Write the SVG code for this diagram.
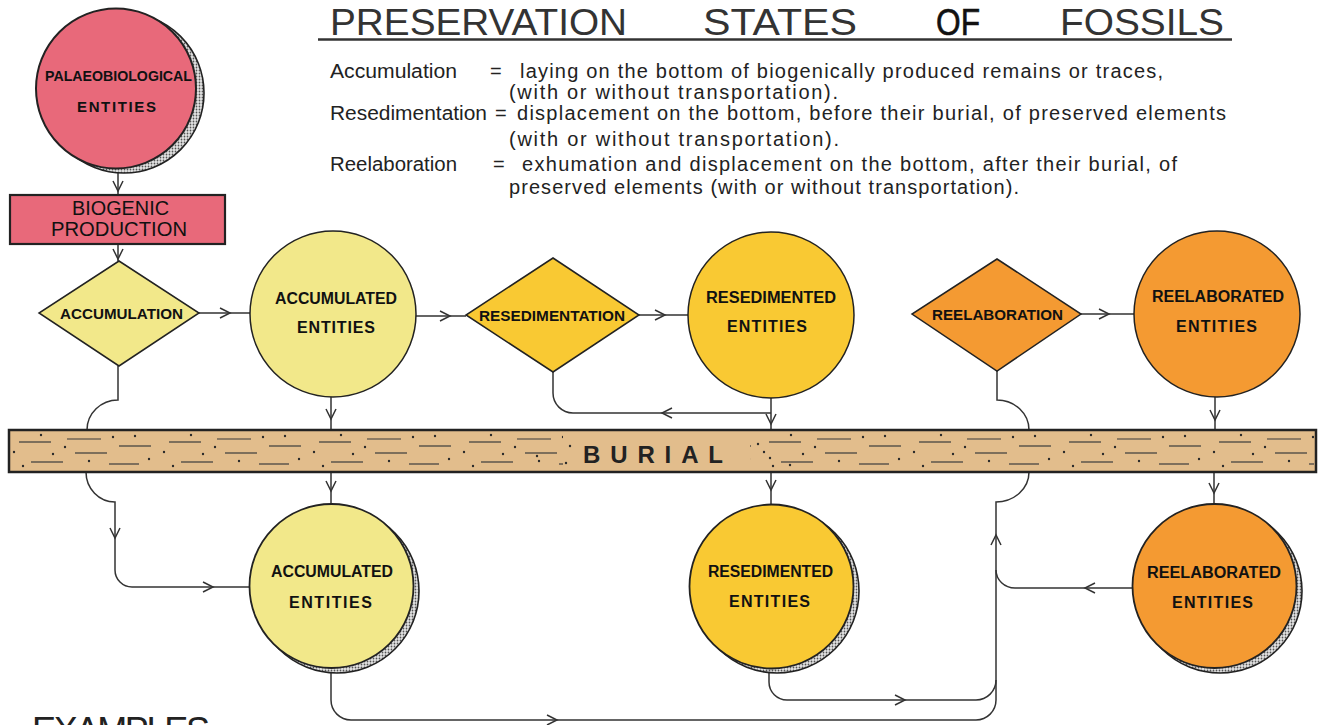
<svg xmlns="http://www.w3.org/2000/svg" width="1319" height="725" viewBox="0 0 1319 725">
<defs>
<style>
.title{font-family:"Liberation Sans",Arial,sans-serif;font-size:36px;fill:#333}
.body{font-family:"Liberation Sans",Arial,sans-serif;font-size:20px;fill:#222}
.lbl{font-family:"Liberation Sans",Arial,sans-serif;font-weight:bold;font-size:16px;fill:#111}
.dlbl{font-family:"Liberation Sans",Arial,sans-serif;font-weight:bold;font-size:15px;fill:#111}
.con{fill:none;stroke:#333;stroke-width:1.5}
.arr{fill:none;stroke:#333;stroke-width:1.5;stroke-linejoin:miter}
.node{stroke:#222;stroke-width:1.8}
.shadow{fill:url(#stip);stroke:#222;stroke-width:1.6}
.pink{fill:#E8697A}
.ly{fill:#F2E88A}
.yy{fill:#F9C933}
.oo{fill:#F49A32}
</style>
<pattern id="stip" patternUnits="userSpaceOnUse" width="3" height="3">
<rect width="3" height="3" fill="#e4e4e4"/>
<circle cx="1.5" cy="1.5" r="0.9" fill="#555"/>
</pattern>
<pattern id="sed" patternUnits="userSpaceOnUse" x="9" y="430" width="150" height="42">
<g stroke="#3a3a3a" stroke-width="1.2">
<line x1="10" y1="12" x2="42" y2="12"/>
<line x1="58" y1="9" x2="92" y2="9"/>
<line x1="66" y1="23" x2="98" y2="23"/>
<line x1="22" y1="32" x2="54" y2="32"/>
<line x1="110" y1="16" x2="142" y2="16"/>
<line x1="100" y1="34" x2="130" y2="34"/>
</g>
<g fill="#2a2a2a">
<circle cx="5" cy="22" r="1.2"/>
<circle cx="32" cy="5" r="1.2"/>
<circle cx="56" cy="17" r="1.2"/>
<circle cx="80" cy="31" r="1.2"/>
<circle cx="104" cy="7" r="1.2"/>
<circle cx="140" cy="29" r="1.2"/>
<circle cx="44" cy="24" r="1.2"/>
<circle cx="126" cy="6" r="1.2"/>
<circle cx="14" cy="36" r="1.2"/>
</g>
</pattern>
</defs>
<rect width="1319" height="725" fill="#ffffff"/>

<g id="title">
<text class="title" x="330" y="35" textLength="297" lengthAdjust="spacingAndGlyphs">PRESERVATION</text>
<text class="title" x="703" y="35" textLength="154" lengthAdjust="spacingAndGlyphs">STATES</text>
<text class="title" x="936" y="35" textLength="44" lengthAdjust="spacingAndGlyphs" style="fill:#111;stroke:#111;stroke-width:0.6">OF</text>
<text class="title" x="1060" y="35" textLength="164" lengthAdjust="spacingAndGlyphs">FOSSILS</text>
<line x1="318" y1="39.5" x2="1232" y2="39.5" stroke="#333" stroke-width="2.5"/>
</g>

<g id="definitions">
<text class="body" x="330" y="78" textLength="127" lengthAdjust="spacingAndGlyphs">Accumulation</text>
<text class="body" x="490" y="78">=</text>
<text class="body" x="520" y="78" textLength="643" lengthAdjust="spacing">laying on the bottom of biogenically produced remains or traces,</text>
<text class="body" x="509" y="99" textLength="329" lengthAdjust="spacing">(with or without transportation).</text>
<text class="body" x="330" y="120" textLength="157" lengthAdjust="spacingAndGlyphs">Resedimentation</text>
<text class="body" x="495" y="120">=</text>
<text class="body" x="517" y="120" textLength="709" lengthAdjust="spacing">displacement on the bottom, before their burial, of preserved elements</text>
<text class="body" x="509" y="146" textLength="330" lengthAdjust="spacing">(with or without transportation).</text>
<text class="body" x="330" y="171" textLength="127" lengthAdjust="spacingAndGlyphs">Reelaboration</text>
<text class="body" x="493" y="171">=</text>
<text class="body" x="522" y="171" textLength="655" lengthAdjust="spacing">exhumation and displacement on the bottom, after their burial, of</text>
<text class="body" x="509" y="194" textLength="510" lengthAdjust="spacing">preserved elements (with or without transportation).</text>
</g>

<g id="connectors">
<path class="con" d="M118,170 V195 M118,244 V261"/>
<path class="arr" d="M113,181 L118,191 L123,181 M113,249 L118,259 L123,249"/>
<path class="con" d="M199,313 H250 M416,316 H466 M639,315 H688 M1081,314 H1134"/>
<path class="arr" d="M220,308 L230,313 L220,318 M440,311 L450,316 L440,321 M655,310 L665,315 L655,320 M1099,309 L1109,314 L1099,319"/>
<path class="con" d="M118,366 V400 A31,30 0 0 0 87,430"/>
<path class="con" d="M86,472 A29,30 0 0 0 115,502 V570 A17,17 0 0 0 132,587 H250"/>
<path class="arr" d="M110,528 L115,538 L120,528 M203,582 L213,587 L203,592"/>
<path class="con" d="M331,397 V430 M331,472 V504"/>
<path class="arr" d="M326,409 L331,419 L336,409 M326,481 L331,491 L336,481"/>
<path class="con" d="M553,372 V393 A20,20 0 0 0 573,413 H771 M771,398 V430 M771,472 V505"/>
<path class="arr" d="M672,408 L662,413 L672,418 M766,414 L771,424 L776,414 M766,480 L771,490 L776,480"/>
<path class="con" d="M997,371 V400 A32,30 0 0 1 1029,430"/>
<path class="con" d="M1029,472 A33,30 0 0 1 996,502 V700"/>
<path class="arr" d="M991,545 L996,535 L1001,545"/>
<path class="con" d="M1215,397 V430 M1214,472 V505"/>
<path class="arr" d="M1210,410 L1215,420 L1220,410 M1209,483 L1214,493 L1219,483"/>
<path class="con" d="M1132,588 H1015 A19,18 0 0 1 996,570"/>
<path class="arr" d="M1095,583 L1085,588 L1095,593"/>
<path class="con" d="M769,668 V682 A18,18 0 0 0 787,700 H976 A20,20 0 0 0 996,680"/>
<path class="arr" d="M895,695 L905,700 L895,705"/>
<path class="con" d="M331,668 V700 A20,20 0 0 0 351,720 H976 A20,20 0 0 0 996,700"/>
<path class="arr" d="M547,715 L557,720 L547,725"/>
</g>

<g id="burial">
<rect x="9" y="430" width="1307" height="42" fill="#E2BD8C" stroke="#222" stroke-width="2.5"/>
<rect x="11" y="432" width="552" height="38" fill="url(#sed)"/>
<rect x="750" y="432" width="564" height="38" fill="url(#sed)"/>
<g fill="#2a2a2a">
<circle cx="570" cy="446" r="1.2"/><circle cx="566" cy="463" r="1.2"/><circle cx="537" cy="456" r="1.2"/>
<circle cx="758" cy="444" r="1.2"/><circle cx="770" cy="458" r="1.2"/><circle cx="790" cy="465" r="1.2"/>
</g>
<text x="583" y="463" style="font-family:'Liberation Sans',Arial,sans-serif;font-weight:bold;font-size:24px;fill:#222" textLength="140" lengthAdjust="spacing">BURIAL</text>
</g>

<g id="palaeo">
<circle class="shadow" cx="124" cy="93" r="80"/>
<circle class="node pink" cx="116" cy="88.5" r="80" style="stroke-width:2"/>
<text class="dlbl" x="45" y="81" textLength="147" lengthAdjust="spacingAndGlyphs">PALAEOBIOLOGICAL</text>
<text class="dlbl" x="77" y="112" textLength="79" lengthAdjust="spacing">ENTITIES</text>
</g>

<g id="biogenic">
<rect class="pink" x="10" y="195" width="215" height="49" stroke="#222" stroke-width="2.2"/>
<text x="72" y="215" style="font-family:'Liberation Sans',Arial,sans-serif;font-size:19.5px;fill:#111" textLength="97" lengthAdjust="spacingAndGlyphs">BIOGENIC</text>
<text x="51" y="236" style="font-family:'Liberation Sans',Arial,sans-serif;font-size:19.5px;fill:#111" textLength="136" lengthAdjust="spacingAndGlyphs">PRODUCTION</text>
</g>

<g id="accumulation">
<polygon class="node ly" points="119,261 199,313 119,366 39,313" style="stroke-width:1.5"/>
<text class="dlbl" x="60" y="319" textLength="123" lengthAdjust="spacingAndGlyphs">ACCUMULATION</text>
</g>

<g id="accumulated-top">
<circle class="node ly" cx="333" cy="314" r="83" style="stroke-width:1.5"/>
<text class="lbl" x="275" y="304" textLength="122" lengthAdjust="spacingAndGlyphs">ACCUMULATED</text>
<text class="lbl" x="297" y="333" textLength="78" lengthAdjust="spacing">ENTITIES</text>
</g>

<g id="resedimentation">
<polygon class="node yy" points="553,258 639,315 553,372 466,315" style="stroke-width:1.5"/>
<text class="dlbl" x="479" y="321" textLength="146" lengthAdjust="spacingAndGlyphs">RESEDIMENTATION</text>
</g>

<g id="resedimented-top">
<circle class="node yy" cx="771" cy="315" r="83" style="stroke-width:1.5"/>
<text class="lbl" x="706" y="303" textLength="130" lengthAdjust="spacingAndGlyphs">RESEDIMENTED</text>
<text class="lbl" x="727" y="332" textLength="80" lengthAdjust="spacing">ENTITIES</text>
</g>

<g id="reelaboration">
<polygon class="node oo" points="997,259 1081,314 997,371 912,314" style="stroke-width:1.5"/>
<text class="dlbl" x="932" y="320" textLength="131" lengthAdjust="spacingAndGlyphs">REELABORATION</text>
</g>

<g id="reelaborated-top">
<circle class="node oo" cx="1217" cy="314" r="83" style="stroke-width:1.5"/>
<text class="lbl" x="1152" y="302" textLength="132" lengthAdjust="spacingAndGlyphs">REELABORATED</text>
<text class="lbl" x="1176" y="332" textLength="81" lengthAdjust="spacing">ENTITIES</text>
</g>

<g id="accumulated-bottom">
<circle class="shadow" cx="337" cy="591" r="82"/>
<circle class="node ly" cx="331.5" cy="586" r="82"/>
<text class="lbl" x="271" y="577" textLength="122" lengthAdjust="spacingAndGlyphs">ACCUMULATED</text>
<text class="lbl" x="289" y="608" textLength="83" lengthAdjust="spacing">ENTITIES</text>
</g>

<g id="resedimented-bottom">
<circle class="shadow" cx="777" cy="591" r="82"/>
<circle class="node yy" cx="771.5" cy="586.5" r="82"/>
<text class="lbl" x="708" y="577" textLength="125" lengthAdjust="spacingAndGlyphs">RESEDIMENTED</text>
<text class="lbl" x="729" y="607" textLength="81" lengthAdjust="spacing">ENTITIES</text>
</g>

<g id="reelaborated-bottom">
<circle class="shadow" cx="1220" cy="591" r="82"/>
<circle class="node oo" cx="1214.5" cy="586" r="82"/>
<text class="lbl" x="1147" y="578" textLength="134" lengthAdjust="spacingAndGlyphs">REELABORATED</text>
<text class="lbl" x="1172" y="608" textLength="81" lengthAdjust="spacing">ENTITIES</text>
</g>

<g id="examples">
<text class="title" x="32" y="743" textLength="178" lengthAdjust="spacing" style="fill:#222">EXAMPLES</text>
</g>
</svg>
